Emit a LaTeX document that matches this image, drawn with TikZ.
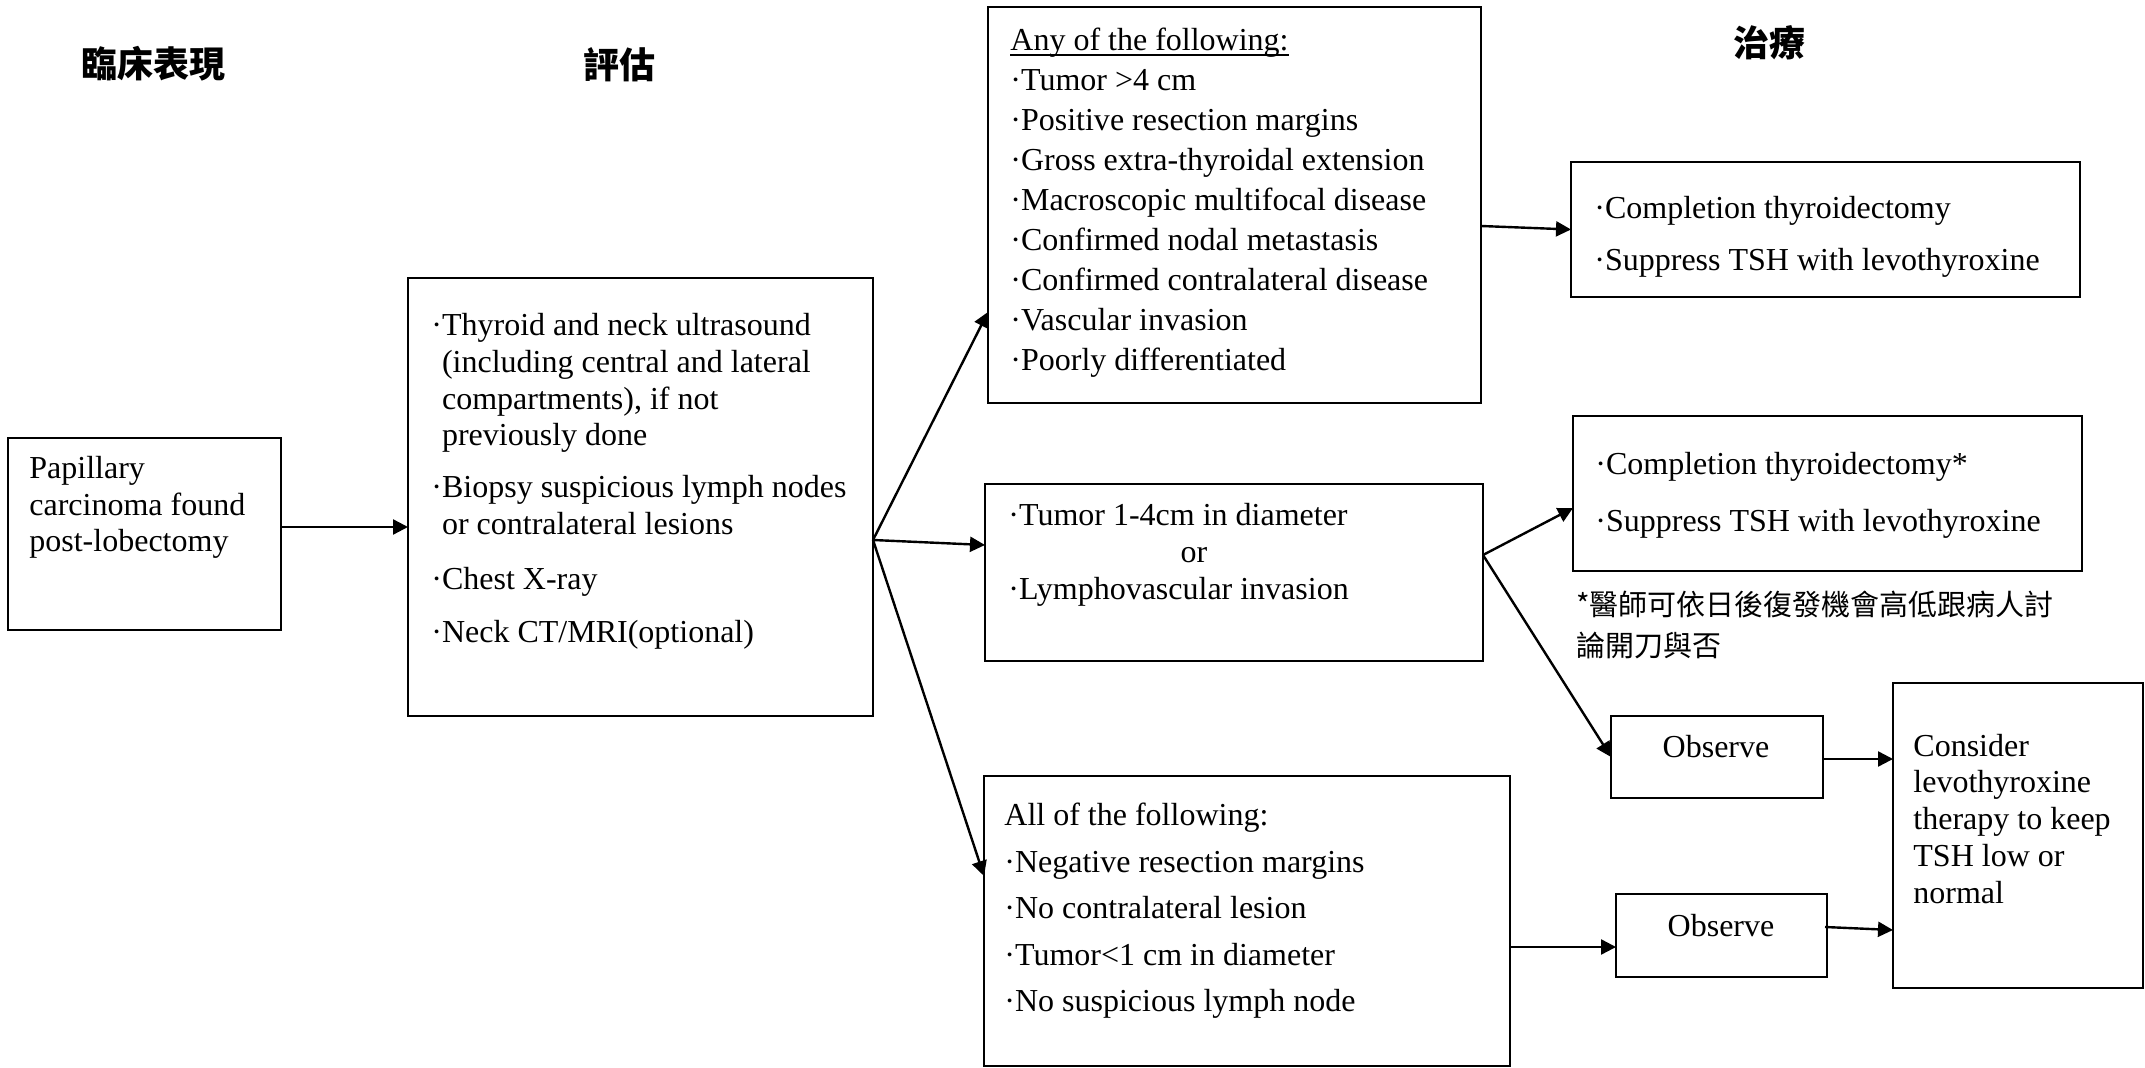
\documentclass[tikz,border=0pt]{standalone}
\usepackage{fontspec}
\setmainfont{Liberation Serif}
\newfontfamily\cjk{Noto Sans CJK TC}
\usetikzlibrary{arrows.meta}
\newcommand\itemdot{·}
\newcommand\dotindent{\phantom{·}}
\begin{document}
\begin{tikzpicture}[x=0.5pt,y=-0.5pt,
  box/.style={draw, line width=1pt, inner sep=0pt, outer sep=0pt},
  txt/.style={anchor=base west, inner sep=0pt, font=\fontsize{16pt}{20pt}\selectfont},
  ctxt/.style={txt, anchor=base},
  head/.style={inner sep=0pt, font=\cjk\bfseries\fontsize{18pt}{22pt}\selectfont},
  note/.style={anchor=base west, inner sep=0pt, font=\cjk\fontsize{14.5pt}{20pt}\selectfont},
  arr/.style={-{Triangle[length=7.5pt,width=7.5pt]}, line width=1.2pt}]
\useasboundingbox (0,0) rectangle (2145,1068);

% column headings
\node[head] (h1) at (153,64) {臨床表現};
\node[head] (h2) at (619,65) {評估};
\node[head] (h3) at (1769,43) {治療};

% boxes
\node[box, minimum width=136.5pt, minimum height=96pt]   (b1) at (144.5,534)  {};
\node[box, minimum width=232.5pt, minimum height=219pt]  (b2) at (640.5,497)  {};
\node[box, minimum width=246.5pt, minimum height=198pt]  (b3) at (1234.5,205) {};
\node[box, minimum width=254.5pt, minimum height=67.5pt] (b4) at (1825.5,229.5) {};
\node[box, minimum width=249pt,   minimum height=88.5pt] (b5) at (1234,572.5) {};
\node[box, minimum width=263pt,   minimum height=145pt]  (b6) at (1247,921)   {};
\node[box, minimum width=254.5pt, minimum height=77.5pt] (b7) at (1827.5,493.5) {};
\node[box, minimum width=106pt,   minimum height=41pt]   (o1) at (1717,757)   {};
\node[box, minimum width=105.5pt, minimum height=41.5pt] (o2) at (1721.5,935.5) {};
\node[box, minimum width=125pt,   minimum height=152.5pt] (b8) at (2018,835.5) {};

% presentation
\node[txt] (t1a) at (29,479) {Papillary};
\node[txt] (t1b) at (29,516) {carcinoma found};
\node[txt] (t1c) at (29,552) {post-lobectomy};

% work-up
\node[txt] (t2a) at (431,336) {\itemdot Thyroid and neck ultrasound};
\node[txt] (t2b) at (431,373) {\dotindent(including central and lateral};
\node[txt] (t2c) at (431,410) {\dotindent compartments), if not};
\node[txt] (t2d) at (431,446) {\dotindent previously done};
\node[txt] (t2e) at (431,498) {\itemdot Biopsy suspicious lymph nodes};
\node[txt] (t2f) at (431,535) {\dotindent or contralateral lesions};
\node[txt] (t2g) at (431,589) {\itemdot Chest X-ray};
\node[txt] (t2h) at (431,642) {\itemdot Neck CT/MRI(optional)};

% high-risk criteria (heading underlined just below its baseline)
\node[txt] (t3h) at (1010,51) {Any of the following:};
\draw[line width=0.6pt] ([yshift=-2pt]t3h.base west) -- ([yshift=-2pt]t3h.base east);
\foreach \t [count=\i from 0] in {{Tumor >4 cm},{Positive resection margins},
    {Gross extra-thyroidal extension},{Macroscopic multifocal disease},
    {Confirmed nodal metastasis},{Confirmed contralateral disease},
    {Vascular invasion},{Poorly differentiated}}
  \node[txt] (t3l\i) at (1010,91+39.9*\i) {\itemdot\t};

% intermediate criteria
\node[txt]  (t5a) at (1008,526) {\itemdot Tumor 1-4cm in diameter};
\node[ctxt] (t5b) at (1194,563) {or};
\node[txt]  (t5c) at (1008,600) {\itemdot Lymphovascular invasion};

% low-risk criteria
\node[txt] (t6h) at (1004,825) {All of the following:};
\foreach \t [count=\i from 0] in {{Negative resection margins},{No contralateral lesion},
    {Tumor<1 cm in diameter},{No suspicious lymph node}}
  \node[txt] (t6l\i) at (1004,872+46.5*\i) {\itemdot\t};

% treatments
\node[txt] (t4a) at (1594,219) {\itemdot Completion thyroidectomy};
\node[txt] (t4b) at (1594,271) {\itemdot Suppress TSH with levothyroxine};
\node[txt] (t7a) at (1595,475) {\itemdot Completion thyroidectomy*};
\node[txt] (t7b) at (1595,532) {\itemdot Suppress TSH with levothyroxine};
\node[note] (fn1) at (1576,616) {*醫師可依日後復發機會高低跟病人討};
\node[note] (fn2) at (1576,656) {論開刀與否};
\node[ctxt] (to1) at (1716,757.5) {Observe};
\node[ctxt] (to2) at (1721,936) {Observe};
\node[txt] (t8a) at (1913,756) {Consider};
\node[txt] (t8b) at (1913,792.5) {levothyroxine};
\node[txt] (t8c) at (1913,829) {therapy to keep};
\node[txt] (t8d) at (1913,866) {TSH low or};
\node[txt] (t8e) at (1913,903) {normal};

% connectors
\coordinate (a1s) at ([yshift=3.5pt]b1.east);
\draw[arr] (a1s) -- (a1s -| b2.west);

\coordinate (fan) at ([yshift=-21.5pt]b2.east);
\draw[arr] (fan) -- ([yshift=-53.5pt]b3.west);
\draw[arr] (fan) -- ([yshift=13.75pt]b5.west);
\draw[arr] (fan) -- ([yshift=22.5pt]b6.west);

\draw[arr] ([yshift=-10.5pt]b3.east) -- (b4.west);

\coordinate (split) at ([yshift=8.75pt]b5.east);
\draw[arr] (split) -- ([yshift=-7.25pt]b7.west);
\draw[arr] (split) -- (o1.west);

\coordinate (o1s) at ([yshift=-1pt]o1.east);
\draw[arr] (o1s) -- (o1s -| b8.west);

\coordinate (b6s) at ([yshift=-13pt]b6.east);
\draw[arr] (b6s) -- (b6s -| o2.west);

\draw[arr] ([xshift=-1pt,yshift=4.25pt]o2.east) -- ([yshift=-47.25pt]b8.west);
\end{tikzpicture}
\end{document}
